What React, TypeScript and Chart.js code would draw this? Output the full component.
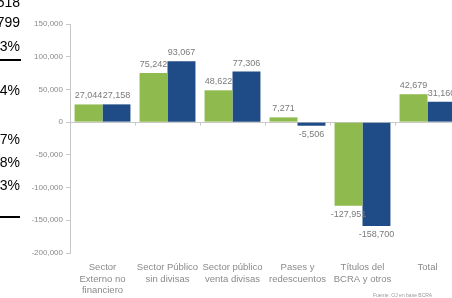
import React, { useEffect, useRef } from "react";
import { Chart, registerables } from "chart.js";

Chart.register(...registerables);

const categories: string[][] = [
  ["Sector", "Externo no", "financiero"],
  ["Sector Público", "sin divisas"],
  ["Sector público", "venta divisas"],
  ["Pases y", "redescuentos"],
  ["Títulos del", "BCRA y otros"],
  ["Total"],
];
const seriesGreen = [27044, 75242, 48622, 7271, -127951, 42679];
const seriesBlue = [27158, 93067, 77306, -5506, -158700, 31160];
const yTickValues = [150000, 100000, 50000, 0, -50000, -100000, -150000, -200000];
const sideTexts = ["518", "799", "3%", "4%", "7%", "8%", "3%"];
const sourceText = "Fuente: OJ en base BCRA";

const fmt = (v: number) => v.toLocaleString("en-US");

const dataLabelPlugin = {
  id: "dataLabels",
  afterDatasetsDraw(chart: any) {
    const ctx = chart.ctx;
    ctx.save();
    ctx.font = "9px 'Liberation Sans', Arial, sans-serif";
    ctx.fillStyle = "#7a7a7a";
    ctx.textAlign = "center";
    chart.data.datasets.forEach((ds: any, di: number) => {
      const meta = chart.getDatasetMeta(di);
      meta.data.forEach((el: any, i: number) => {
        const v = ds.data[i] as number;
        if (v >= 0) {
          ctx.textBaseline = "bottom";
          ctx.fillText(fmt(v), el.x, el.y - 4);
        } else {
          ctx.textBaseline = "top";
          ctx.fillText(fmt(v), el.x, el.y + 4);
        }
      });
    });
    ctx.restore();
  },
};

const boundaryTicksPlugin = {
  id: "boundaryTicks",
  afterDraw(chart: any) {
    const xs = chart.scales.x;
    const ys = chart.scales.y;
    const ctx = chart.ctx;
    const y0 = Math.round(ys.getPixelForValue(0)) + 0.5;
    const step = xs.getPixelForValue(1) - xs.getPixelForValue(0);
    ctx.save();
    ctx.strokeStyle = "#c8c8c8";
    ctx.lineWidth = 1;
    for (let i = 0; i < categories.length; i++) {
      const x = Math.round(xs.getPixelForValue(i) + step / 2) + 0.5;
      ctx.beginPath();
      ctx.moveTo(x, y0);
      ctx.lineTo(x, y0 + 3);
      ctx.stroke();
    }
    ctx.restore();
  },
};

export default function App() {
  const ref = useRef<HTMLCanvasElement | null>(null);

  useEffect(() => {
    if (!ref.current) return;
    const chart = new Chart(ref.current, {
      type: "bar",
      data: {
        labels: categories,
        datasets: [
          { label: "Serie 1", data: seriesGreen, backgroundColor: "#8fba4e", categoryPercentage: 0.86, barPercentage: 1 },
          { label: "Serie 2", data: seriesBlue, backgroundColor: "#1f4b87", categoryPercentage: 0.86, barPercentage: 1 },
        ],
      },
      options: {
        responsive: false,
        animation: false,
        layout: { padding: { top: 24, right: 10, bottom: 0, left: 0 } },
        plugins: { legend: { display: false }, tooltip: { enabled: false }, title: { display: false } },
        scales: {
          x: {
            grid: { display: false, drawTicks: false },
            border: { display: false },
            ticks: {
              color: "#8a8a8a",
              font: { size: 9.5, family: "'Liberation Sans', Arial, sans-serif", lineHeight: 1.2 },
              padding: 9,
              maxRotation: 0,
              autoSkip: false,
            },
            afterFit: (s: any) => {
              s.height = 45;
            },
          },
          y: {
            min: -200000,
            max: 150000,
            afterBuildTicks: (s: any) => {
              s.ticks = yTickValues.map((v) => ({ value: v }));
            },
            grid: {
              color: (c: any) => (c.tick && c.tick.value === 0 ? "#c8c8c8" : "transparent"),
              tickColor: "#c8c8c8",
              tickLength: 4,
              lineWidth: 1,
            },
            border: { display: true, color: "#c8c8c8" },
            ticks: {
              color: "#8a8a8a",
              font: { size: 8, family: "'Liberation Sans', Arial, sans-serif" },
              padding: 3,
              callback: (v: any) => fmt(Number(v)),
            },
            afterFit: (s: any) => {
              s.width = 70;
            },
          },
        },
      },
      plugins: [dataLabelPlugin, boundaryTicksPlugin],
    });
    return () => chart.destroy();
  }, []);

  const sideTops = [-6, 14, 38, 82, 131, 154, 177];

  return (
    <div
      style={{
        position: "fixed",
        left: 0,
        top: 0,
        width: 452,
        height: 298,
        overflow: "hidden",
        background: "#fff",
      }}
    >
      <canvas ref={ref} width={470} height={298} style={{ position: "absolute", left: 0, top: 0, width: 470, height: 298 }} />
      {sideTexts.map((t, i) => (
        <div
          key={i}
          style={{
            position: "absolute",
            right: 452 - 20,
            top: sideTops[i],
            fontFamily: "'Liberation Sans', Arial, sans-serif",
            fontSize: 14,
            lineHeight: "16px",
            color: "#000",
            whiteSpace: "nowrap",
          }}
        >
          {t}
        </div>
      ))}
      <div style={{ position: "absolute", left: 0, top: 59, width: 21, height: 2, background: "#000" }} />
      <div style={{ position: "absolute", left: 0, top: 216, width: 20, height: 2, background: "#000" }} />
      <div
        style={{
          position: "absolute",
          left: 373,
          top: 292,
          fontFamily: "'Liberation Sans', Arial, sans-serif",
          fontSize: 5,
          lineHeight: "6px",
          color: "#999",
          whiteSpace: "nowrap",
        }}
      >
        {sourceText}
      </div>
    </div>
  );
}
